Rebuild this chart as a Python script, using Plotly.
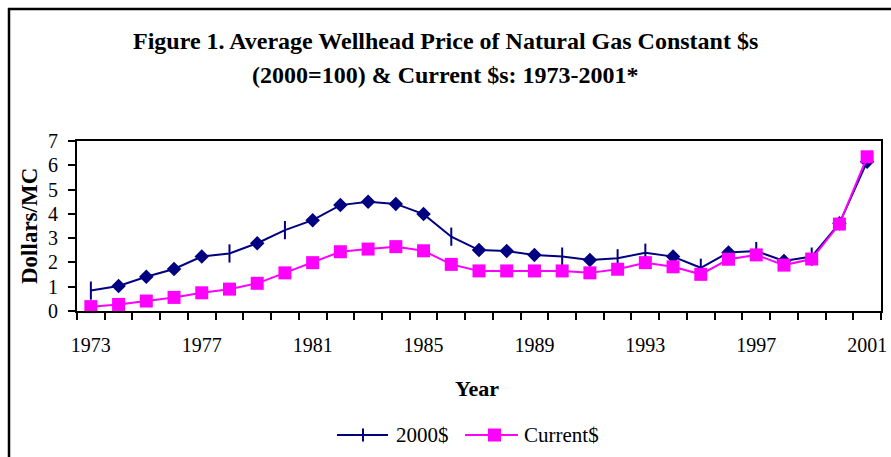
import plotly.graph_objects as go

years = list(range(1973, 2002))
constant_2000 = [0.84, 1.03, 1.41, 1.73, 2.24, 2.37, 2.79, 3.33, 3.74, 4.36,
                 4.50, 4.41, 3.99, 3.06, 2.51, 2.47, 2.31, 2.24, 2.10, 2.17,
                 2.40, 2.24, 1.78, 2.41, 2.47, 2.06, 2.24, 3.61, 6.15]
current = [0.18, 0.27, 0.41, 0.56, 0.75, 0.90, 1.14, 1.57, 1.99, 2.44,
           2.55, 2.65, 2.48, 1.92, 1.65, 1.65, 1.65, 1.65, 1.57, 1.72,
           1.99, 1.82, 1.51, 2.13, 2.31, 1.89, 2.14, 3.58, 6.35]
# marker style per point of the 2000$ series as drawn in the original
marker_kind = ["tick", "dia", "dia", "dia", "dia", "tick", "dia", "tick", "dia", "dia",
               "dia", "dia", "dia", "tick", "dia", "dia", "dia", "tick", "dia", "tick",
               "tick", "dia", "tick", "dia", "tick", "dia", "tick", "dia", "dia"]
x_tick_labels = ["1973", "1977", "1981", "1985", "1989", "1993", "1997", "2001"]
x_tick_vals = [int(s) for s in x_tick_labels]
series_names = ["2000$", "Current$"]

NAVY = "#000080"
MAGENTA = "#FF00FF"
FONT = "Liberation Serif"

W, H = 891, 457
L, R, T, B = 77, 10, 141, 146
pw, ph = W - L - R, H - T - B


def px_x(p):
    return (p - L) / pw


def px_y(p):
    return (H - B - p) / ph


sym = ["line-ns" if k == "tick" else "diamond" for k in marker_kind]
sizes = [13 if k == "tick" else 9 for k in marker_kind]

fig = go.Figure()
fig.add_trace(go.Scatter(
    x=years, y=constant_2000, name=series_names[0], mode="lines+markers",
    line=dict(color=NAVY, width=2),
    marker=dict(symbol=sym, size=sizes, color=NAVY, opacity=1,
                line=dict(color=NAVY, width=2)),
    showlegend=False, cliponaxis=False,
))
fig.add_trace(go.Scatter(
    x=years, y=current, name=series_names[1], mode="lines+markers",
    line=dict(color=MAGENTA, width=2),
    marker=dict(symbol="square", size=13, color=MAGENTA, opacity=1,
                line=dict(width=0)),
    showlegend=False, cliponaxis=False,
))

# legend (drawn as decoration so that the key lines have the original length)
LEG_Y = 435
shapes = [
    # outer chart frame
    dict(type="line", xref="paper", yref="paper",
         x0=px_x(9), x1=px_x(9), y0=px_y(8), y1=px_y(470),
         line=dict(color="black", width=2.5)),
    dict(type="line", xref="paper", yref="paper",
         x0=px_x(8), x1=px_x(900), y0=px_y(9), y1=px_y(9),
         line=dict(color="black", width=2.5)),
    # legend key: 2000$
    dict(type="line", xref="paper", yref="paper",
         x0=px_x(337), x1=px_x(388), y0=px_y(LEG_Y), y1=px_y(LEG_Y),
         line=dict(color=NAVY, width=2)),
    dict(type="line", xref="paper", yref="paper",
         x0=px_x(363), x1=px_x(363), y0=px_y(LEG_Y - 6.5), y1=px_y(LEG_Y + 6.5),
         line=dict(color=NAVY, width=2)),
    # legend key: Current$
    dict(type="line", xref="paper", yref="paper",
         x0=px_x(465), x1=px_x(518), y0=px_y(LEG_Y), y1=px_y(LEG_Y),
         line=dict(color=MAGENTA, width=2)),
    dict(type="rect", xref="paper", yref="paper",
         x0=px_x(488), x1=px_x(501), y0=px_y(LEG_Y - 6.5), y1=px_y(LEG_Y + 6.5),
         fillcolor=MAGENTA, line=dict(width=0)),
]

annotations = [
    dict(text="<b>Figure 1. Average Wellhead Price of Natural Gas Constant $s</b>",
         x=px_x(445), y=px_y(41), xref="paper", yref="paper",
         showarrow=False, font=dict(family=FONT, size=24, color="black"),
         xanchor="center", yanchor="middle"),
    dict(text="<b>(2000=100) & Current $s: 1973-2001*</b>",
         x=px_x(445), y=px_y(75), xref="paper", yref="paper",
         showarrow=False, font=dict(family=FONT, size=24, color="black"),
         xanchor="center", yanchor="middle"),
    dict(text="<b>Year</b>", x=px_x(477), y=px_y(388), xref="paper", yref="paper",
         showarrow=False, font=dict(family=FONT, size=22, color="black"),
         xanchor="center", yanchor="middle"),
    dict(text="<b>Dollars/MC</b>", x=px_x(29), y=px_y(226), xref="paper",
         yref="paper", textangle=-90, showarrow=False,
         font=dict(family=FONT, size=23, color="black"),
         xanchor="center", yanchor="middle"),
    dict(text=series_names[0], x=px_x(394), y=px_y(LEG_Y), xref="paper", yref="paper",
         showarrow=False, font=dict(family=FONT, size=21, color="black"),
         xanchor="left", yanchor="middle"),
    dict(text=series_names[1], x=px_x(522), y=px_y(LEG_Y), xref="paper", yref="paper",
         showarrow=False, font=dict(family=FONT, size=21, color="black"),
         xanchor="left", yanchor="middle"),
]

fig.update_layout(
    width=W, height=H,
    margin=dict(l=L, r=R, t=T, b=B, pad=0, autoexpand=False),
    paper_bgcolor="white", plot_bgcolor="white",
    font=dict(family=FONT, size=20, color="black"),
    showlegend=False,
    xaxis=dict(
        automargin=False,
        range=[1972.5, 2001.5], tickmode="array", tickvals=x_tick_vals,
        ticktext=x_tick_labels, ticks="", showgrid=False, zeroline=False,
        showline=True, linecolor="black", linewidth=2, mirror=True,
        minor=dict(ticks="outside", tick0=1972.5, dtick=1, ticklen=7,
                   tickcolor="black", tickwidth=2, showgrid=False),
        ticklabelstandoff=15,
        tickfont=dict(family=FONT, size=20, color="black"),
    ),
    yaxis=dict(
        automargin=False,
        range=[0, 7], dtick=1, ticks="outside", ticklen=7, tickwidth=2,
        tickcolor="black", showgrid=False, zeroline=False,
        showline=True, linecolor="black", linewidth=2, mirror=True,
        ticklabelstandoff=6,
        tickfont=dict(family=FONT, size=20, color="black"),
    ),
    annotations=annotations,
    shapes=shapes,
)

fig.write_html("out.html",
               config={"displayModeBar": False},
               post_script="document.body.style.margin='0';"
                           "document.body.style.overflow='hidden';")
